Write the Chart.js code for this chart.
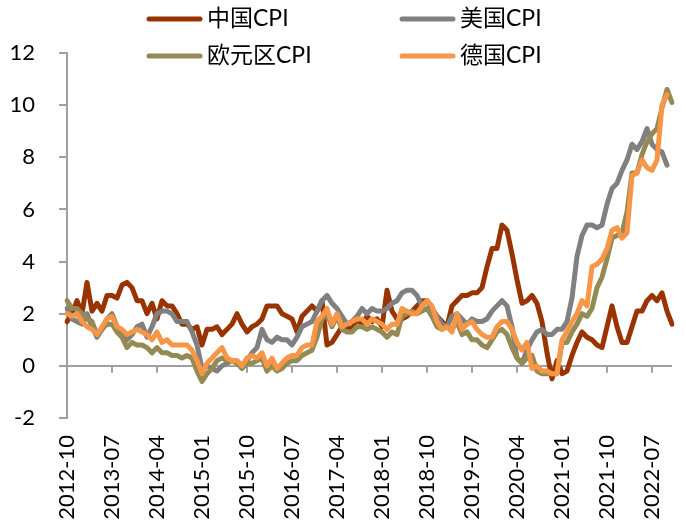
<!DOCTYPE html>
<html>
<head>
<meta charset="utf-8">
<script src="https://cdn.jsdelivr.net/npm/chart.js@4/dist/chart.umd.min.js"></script>
<style>
    html, body { margin: 0; padding: 0; background: #fff; }
    #wrap { width: 686px; height: 529px; }
</style>
</head>
<body>
<div id="wrap"><canvas id="cpiChart"></canvas></div>
<script>
// Months 2012-10 .. 2022-11
const startYear = 2012, startMonth = 10, monthCount = 122;
const months = [];
for (let i = 0; i < monthCount; i++) {
    const m = startMonth - 1 + i;
    const y = startYear + Math.floor(m / 12);
    months.push(y + '-' + String(m % 12 + 1).padStart(2, '0'));
}

// Year-on-year CPI, %
const chinaCpi = [
    1.7, 2.0, 2.5,
    2.0, 3.2, 2.1, 2.4, 2.1, 2.7, 2.7, 2.6, 3.1, 3.2, 3.0, 2.5,
    2.5, 2.0, 2.4, 1.8, 2.5, 2.3, 2.3, 2.0, 1.6, 1.6, 1.4, 1.5,
    0.8, 1.4, 1.4, 1.5, 1.2, 1.4, 1.6, 2.0, 1.6, 1.3, 1.5, 1.6,
    1.8, 2.3, 2.3, 2.3, 2.0, 1.9, 1.8, 1.3, 1.9, 2.1, 2.3, 2.1,
    2.5, 0.8, 0.9, 1.2, 1.5, 1.5, 1.4, 1.8, 1.6, 1.9, 1.7, 1.8,
    1.5, 2.9, 2.1, 1.8, 1.8, 1.9, 2.1, 2.3, 2.5, 2.5, 2.2, 1.9,
    1.7, 1.5, 2.3, 2.5, 2.7, 2.7, 2.8, 2.8, 3.0, 3.8, 4.5, 4.5,
    5.4, 5.2, 4.3, 3.3, 2.4, 2.5, 2.7, 2.4, 1.7, 0.5, -0.5, 0.2,
    -0.3, -0.2, 0.4, 0.9, 1.3, 1.1, 1.0, 0.8, 0.7, 1.5, 2.3, 1.5,
    0.9, 0.9, 1.5, 2.1, 2.1, 2.5, 2.7, 2.5, 2.8, 2.1, 1.6
];
const usCpi = [
    2.2, 1.8, 1.7,
    1.6, 2.0, 1.5, 1.1, 1.4, 1.8, 2.0, 1.5, 1.2, 1.0, 1.2, 1.5,
    1.6, 1.1, 1.5, 2.0, 2.1, 2.1, 2.0, 1.7, 1.7, 1.7, 1.3, 0.8,
    -0.1, 0.0, -0.1, -0.2, 0.0, 0.1, 0.2, 0.2, 0.0, 0.2, 0.5, 0.7,
    1.4, 1.0, 0.9, 1.1, 1.0, 1.0, 0.8, 1.1, 1.5, 1.6, 1.7, 2.1,
    2.5, 2.7, 2.4, 2.2, 1.9, 1.6, 1.7, 1.9, 2.2, 2.0, 2.2, 2.1,
    2.1, 2.2, 2.4, 2.5, 2.8, 2.9, 2.9, 2.7, 2.3, 2.5, 2.2, 1.9,
    1.6, 1.5, 1.9, 2.0, 1.8, 1.6, 1.8, 1.7, 1.7, 1.8, 2.1, 2.3,
    2.5, 2.3, 1.5, 0.3, 0.1, 0.6, 1.0, 1.3, 1.4, 1.2, 1.2, 1.4,
    1.4, 1.7, 2.6, 4.2, 5.0, 5.4, 5.4, 5.3, 5.4, 6.2, 6.8, 7.0,
    7.5, 7.9, 8.5, 8.3, 8.6, 9.1, 8.5, 8.3, 8.2, 7.7, null
];
const euroCpi = [
    2.5, 2.2, 2.2,
    2.0, 1.8, 1.7, 1.2, 1.4, 1.6, 1.6, 1.3, 1.1, 0.7, 0.9, 0.8,
    0.8, 0.7, 0.5, 0.7, 0.5, 0.5, 0.4, 0.4, 0.3, 0.4, 0.3, -0.2,
    -0.6, -0.3, -0.1, 0.2, 0.3, 0.2, 0.2, 0.1, -0.1, 0.1, 0.1, 0.2,
    0.3, -0.2, 0.0, -0.2, -0.1, 0.1, 0.2, 0.2, 0.4, 0.5, 0.6, 1.1,
    1.8, 2.0, 1.5, 1.9, 1.4, 1.3, 1.3, 1.5, 1.5, 1.4, 1.5, 1.4,
    1.3, 1.1, 1.3, 1.2, 1.9, 2.0, 2.1, 2.0, 2.1, 2.2, 1.9, 1.5,
    1.4, 1.5, 1.4, 1.7, 1.2, 1.3, 1.0, 1.0, 0.8, 0.7, 1.0, 1.3,
    1.4, 1.2, 0.7, 0.3, 0.1, 0.3, 0.4, -0.2, -0.3, -0.3, -0.3, -0.3,
    0.9, 0.9, 1.3, 1.6, 2.0, 1.9, 2.2, 3.0, 3.4, 4.1, 4.9, 5.0,
    5.1, 5.9, 7.4, 7.4, 8.1, 8.6, 8.9, 9.1, 9.9, 10.6, 10.1
];
const germanyCpi = [
    2.0, 1.9, 2.0,
    1.7, 1.5, 1.4, 1.2, 1.5, 1.8, 1.9, 1.5, 1.4, 1.2, 1.3, 1.4,
    1.3, 1.2, 1.0, 1.3, 0.9, 1.0, 0.8, 0.8, 0.8, 0.8, 0.6, 0.2,
    -0.3, 0.1, 0.3, 0.5, 0.7, 0.3, 0.2, 0.2, 0.0, 0.3, 0.4, 0.3,
    0.5, 0.0, 0.3, -0.1, 0.1, 0.3, 0.4, 0.4, 0.7, 0.8, 0.8, 1.7,
    1.9, 2.2, 1.6, 2.0, 1.5, 1.6, 1.7, 1.8, 1.8, 1.6, 1.8, 1.7,
    1.6, 1.4, 1.6, 1.6, 2.2, 2.1, 2.0, 2.0, 2.3, 2.5, 2.3, 1.7,
    1.4, 1.5, 1.3, 2.0, 1.4, 1.6, 1.7, 1.4, 1.2, 1.1, 1.1, 1.5,
    1.7, 1.7, 1.4, 0.9, 0.6, 0.9, -0.1, 0.0, -0.2, -0.2, -0.3, -0.3,
    1.0, 1.3, 1.7, 2.0, 2.5, 2.3, 3.8, 3.9, 4.1, 4.5, 5.2, 5.3,
    4.9, 5.1, 7.3, 7.4, 7.9, 7.6, 7.5, 7.9, 10.0, 10.4, null
];

const seriesNames = ['中国CPI', '美国CPI', '欧元区CPI', '德国CPI'];
const seriesColors = ['#993300', '#808080', '#948A54', '#F79646'];
const seriesValues = [chinaCpi, usCpi, euroCpi, germanyCpi];

const labelEvery = 9;
const axisGray = '#a0a0a0';
const fontFamily = 'Lato, "Noto Sans CJK SC", sans-serif';

Chart.defaults.font.family = fontFamily;
Chart.defaults.color = '#000';

/**
 * Draw short tick marks under the zero line at every labelled month
 */
const zeroTicks = {
    id: 'zeroTicks',
    beforeDatasetsDraw(chart) {
        const ctx = chart.ctx;
        const x = chart.scales.x;
        const y0 = chart.scales.y.getPixelForValue(0);
        ctx.save();
        ctx.strokeStyle = axisGray;
        ctx.lineWidth = 2;
        for (let i = 0; i < months.length; i += labelEvery) {
            const px = Math.round(x.getPixelForValue(i));
            ctx.beginPath();
            ctx.moveTo(px, y0);
            ctx.lineTo(px, y0 + 7);
            ctx.stroke();
        }
        ctx.restore();
    }
};

/**
 * Two-column legend at the top
 */
const gridLegend = {
    id: 'gridLegend',
    afterDraw(chart) {
        const ctx = chart.ctx;
        const colX = [147, 400];
        const rowY = [19, 56];
        ctx.save();
        ctx.font = '23px ' + fontFamily;
        ctx.textBaseline = 'middle';
        chart.data.datasets.forEach((ds, i) => {
            const x = colX[i % 2];
            const y = rowY[Math.floor(i / 2)];
            ctx.strokeStyle = ds.borderColor;
            ctx.lineWidth = 5;
            ctx.lineCap = 'round';
            ctx.beginPath();
            ctx.moveTo(x + 2, y);
            ctx.lineTo(x + 53, y);
            ctx.stroke();
            ctx.fillStyle = '#000';
            ctx.fillText(ds.label, x + 60, y);
        });
        ctx.restore();
    }
};

new Chart(document.getElementById('cpiChart'), {
    type: 'line',
    data: {
        labels: months,
        datasets: seriesValues.map((vals, i) => ({
            label: seriesNames[i],
            data: vals,
            borderColor: seriesColors[i],
            backgroundColor: seriesColors[i],
            borderWidth: 5,
            borderJoinStyle: 'round',
            borderCapStyle: 'round',
            pointRadius: 0,
            tension: 0,
            spanGaps: false,
            order: seriesValues.length - 1 - i
        }))
    },
    options: {
        responsive: true,
        maintainAspectRatio: false,
        animation: false,
        layout: { padding: { top: 53, right: 14, left: 0, bottom: 0 } },
        plugins: {
            legend: { display: false },
            tooltip: { enabled: false }
        },
        scales: {
            x: {
                type: 'category',
                offset: false,
                border: { display: false },
                grid: { display: false, drawTicks: false },
                ticks: {
                    autoSkip: false,
                    maxRotation: 90,
                    minRotation: 90,
                    padding: 17,
                    font: { size: 22 },
                    color: '#000',
                    callback: function(value, index) {
                        return index % labelEvery === 0 ? months[index] : '';
                    }
                },
                afterFit(scale) {
                    scale.height = 111;
                    scale.paddingLeft = 0;
                    scale.paddingRight = 0;
                }
            },
            y: {
                min: -2,
                max: 12,
                border: { display: true, color: axisGray, width: 2 },
                grid: {
                    color: ctx => ctx.tick && ctx.tick.value === 0 ? axisGray : 'rgba(0,0,0,0)',
                    lineWidth: 2,
                    drawTicks: true,
                    tickLength: 8,
                    tickColor: axisGray,
                    tickWidth: 2
                },
                ticks: {
                    stepSize: 2,
                    padding: 24,
                    font: { size: 22 },
                    color: '#000'
                },
                afterFit(scale) { scale.width = 67; }
            }
        }
    },
    plugins: [zeroTicks, gridLegend]
});
</script>
</body>
</html>
